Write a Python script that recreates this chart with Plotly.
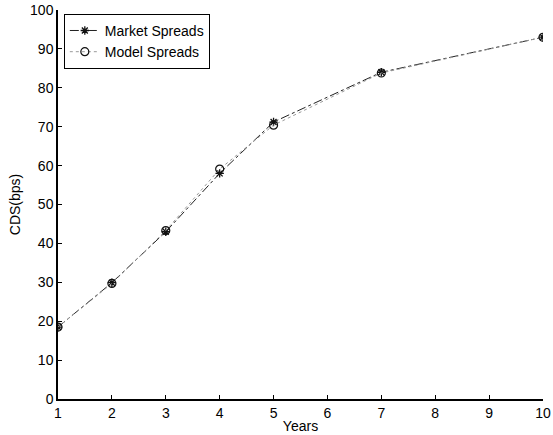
import plotly.graph_objects as go

years = [1, 2, 3, 4, 5, 7, 10]
market_spreads = [18.5, 29.9, 43.0, 58.0, 71.2, 84.0, 93.0]
model_spreads = [18.5, 29.7, 43.3, 59.1, 70.4, 83.8, 93.0]
x_ticks = list(range(1, 11))
y_ticks = list(range(0, 101, 10))

fig = go.Figure()
fig.add_trace(go.Scatter(
    x=years, y=market_spreads, name="Market Spreads", mode="lines+markers",
    line=dict(color="#222222", width=1, dash="dashdot"),
    marker=dict(symbol="asterisk-open", size=7, color="#111111", line=dict(width=1.3, color="#111111")),
))
fig.add_trace(go.Scatter(
    x=years, y=model_spreads, name="Model Spreads", mode="lines+markers",
    line=dict(color="#999999", width=1, dash="dot"),
    marker=dict(symbol="circle-open", size=8, color="#111111", line=dict(width=1.2, color="#111111")),
))

font_family = "Liberation Sans, Arial, sans-serif"
fig.update_layout(
    width=553, height=435,
    margin=dict(l=58, r=10, t=10, b=36, autoexpand=False),
    paper_bgcolor="white", plot_bgcolor="white",
    font=dict(family=font_family, size=14, color="black"),
    showlegend=True,
    legend=dict(x=0.012, y=0.99, xanchor="left", yanchor="top",
                bordercolor="black", borderwidth=1, bgcolor="white",
                font=dict(size=14, family=font_family),
                tracegroupgap=0),
    xaxis=dict(range=[1, 10], tickmode="array", tickvals=x_ticks,
               ticklabeloverflow="allow", automargin=False,
               showgrid=False, zeroline=False, showline=True, linecolor="black", linewidth=1.5,
               ticks="inside", ticklen=4, tickcolor="black",
               title=dict(text="Years", standoff=2, font=dict(size=14))),
    yaxis=dict(range=[0, 100], tickmode="array", tickvals=y_ticks,
               automargin=False,
               showgrid=False, zeroline=False, showline=True, linecolor="black", linewidth=1.5,
               ticks="inside", ticklen=4, tickcolor="black",
               title=dict(text="CDS(bps)", standoff=6, font=dict(size=14))),
)

fig.write_html("out.html")
